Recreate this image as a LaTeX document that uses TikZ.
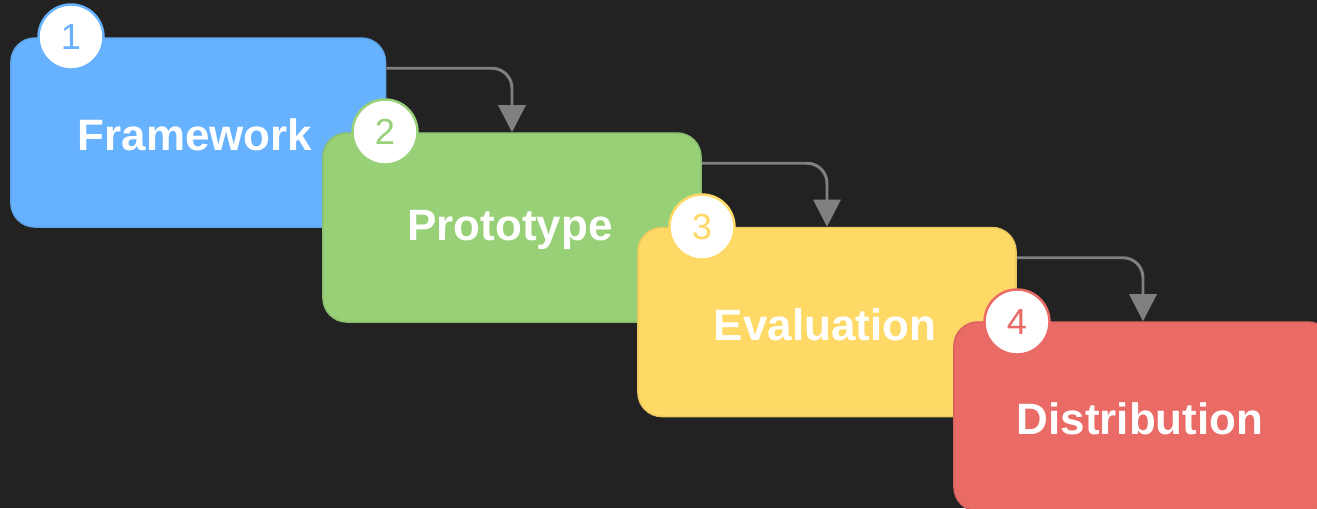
\documentclass[tikz,border=0pt]{standalone}
\usepackage{fontspec}
\setmainfont{Liberation Sans}
\usetikzlibrary{arrows.meta,calc}
\definecolor{bg}{HTML}{222222}
\definecolor{cblue}{HTML}{66B2FF}
\definecolor{cgreen}{HTML}{97D077}
\definecolor{cyellow}{HTML}{FFD966}
\definecolor{cred}{HTML}{EA6B66}
\definecolor{arrowgray}{HTML}{808080}
\tikzset{
  stagebox/.style={rectangle, rounded corners=0.24cm, fill=#1, draw=#1!92!black, line width=0.4pt,
    minimum width=3.78cm, minimum height=1.89cm, inner sep=0pt,
    text=white, font=\fontsize{12.4}{14}\selectfont\bfseries},
  badge/.style={circle, fill=white, draw=#1, line width=0.7pt, minimum size=0.65cm, inner sep=0pt,
    text=#1, font=\fontsize{10.3}{12}\selectfont},
  label/.style={text=white, font=\fontsize{12.5}{14}\selectfont\bfseries},
  flow/.style={draw=arrowgray, line width=0.85pt, rounded corners=0.2cm,
    -{Triangle[width=0.27cm,length=0.27cm]}},
}
\begin{document}
\begin{tikzpicture}[x=0.01cm,y=-0.01cm]
\useasboundingbox (0,0) rectangle (1317,508);
\fill[bg] (0,0) rectangle (1317,508);
\clip (0,0) rectangle (1317,508);
% box 1
\node[stagebox=cblue, minimum width=3.745cm] (b1) at (198.2,132.5) {};
\node[label] (t1) at (195,135) {Framework};
\node[badge=cblue] (c1) at (71,37) {1};
% box 2
\node[stagebox=cgreen] (b2) at (512,227.5) {};
\draw[flow] ($(b1.north east)+(0,31)$) -| (b2.north);
\node[badge=cgreen] (c2) at (385,132) {2};
\node[label] (t2) at (510,230) {Prototype};
% box 3
\node[stagebox=cyellow] (b3) at (827,322) {};
\draw[flow] ($(b2.north east)+(0,31)$) -| (b3.north);
\node[badge=cyellow] (c3) at (702,227) {3};
\node[label] (t3) at (825,325) {Evaluation};
% box 4
\node[stagebox=cred] (b4) at (1143,416.5) {};
\draw[flow] ($(b3.north east)+(0,31)$) -| (b4.north);
\node[badge=cred] (c4) at (1017,322) {4};
\node[label] (t4) at (1140,419) {Distribution};
\end{tikzpicture}
\end{document}
